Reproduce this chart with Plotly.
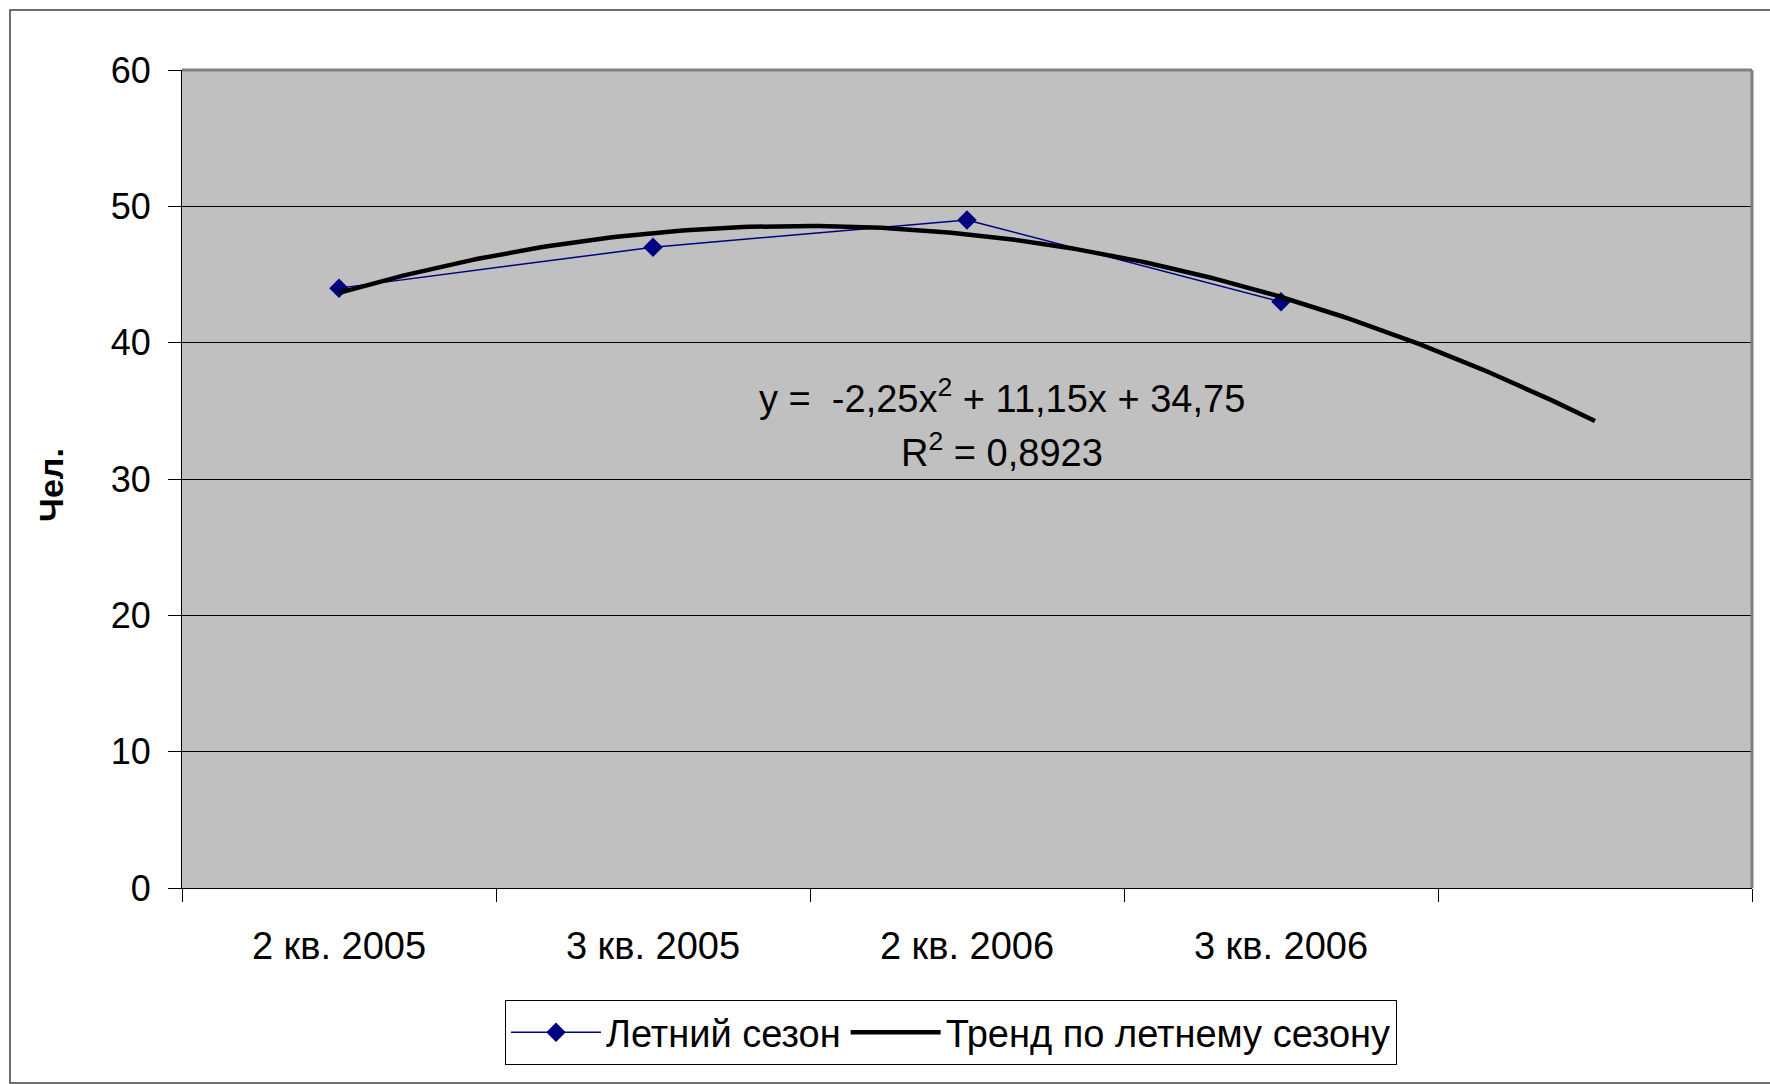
import numpy as np
import plotly.graph_objects as go

# Summer-season headcount by quarter
quarters = ["2 кв. 2005", "3 кв. 2005", "2 кв. 2006", "3 кв. 2006"]
summer_values = [44, 47, 49, 43]
forecast_periods = 1          # trend is extended one period forward

series_name = "Летний сезон"
trend_name = "Тренд по летнему сезону"
y_title = "Чел."
y_ticks = [0, 10, 20, 30, 40, 50, 60]

# Canvas / plot-area geometry in pixels
W, H = 1770, 1084
L, R, T, B = 182, 1752, 70, 888

FONT = "Liberation Sans, Arial, sans-serif"
FS = 38

# Quadratic trend fitted on period index 1..n
x_idx = np.arange(1, len(summer_values) + 1)
coef = np.polyfit(x_idx, summer_values, 2)
fit_vals = np.polyval(coef, x_idx)
ss_res = np.sum((np.array(summer_values) - fit_vals) ** 2)
ss_tot = np.sum((np.array(summer_values) - np.mean(summer_values)) ** 2)
r2 = 1 - ss_res / ss_tot

x_trend = np.linspace(1, len(summer_values) + forecast_periods, 200)
y_trend = np.polyval(coef, x_trend)


def num(v, d):
    return f"{v:.{d}f}".replace(".", ",")


def signed(v, d):
    return ("+ " if v >= 0 else "- ") + num(abs(v), d)


eq_text = (f"y =  {num(coef[0], 2)}x<sup>2</sup> {signed(coef[1], 2)}x "
           f"{signed(coef[2], 2)}")
r2_text = f"R<sup>2</sup> = {num(r2, 4)}"


def px_x(p):
    return (p - L) / (R - L)


def px_y(p):
    return (B - p) / (B - T)


n_slots = len(summer_values) + forecast_periods

fig = go.Figure()
fig.add_trace(go.Scatter(
    x=x_idx, y=summer_values, name=series_name, mode="lines+markers",
    line=dict(color="#000080", width=1.5),
    marker=dict(symbol="diamond", size=15, color="#000080"),
))
fig.add_trace(go.Scatter(
    x=x_trend, y=y_trend, name=trend_name, mode="lines",
    line=dict(color="#000000", width=4.5),
))

fig.update_layout(
    width=W, height=H,
    margin=dict(l=L, r=W - R, t=T, b=H - B),
    paper_bgcolor="white",
    plot_bgcolor="#C0C0C0",
    font=dict(family=FONT, size=FS, color="black"),
    showlegend=True,
    legend=dict(
        orientation="h", x=px_x(951), y=px_y(1000),
        xanchor="center", yanchor="top",
        bordercolor="black", borderwidth=1, bgcolor="white",
        font=dict(family=FONT, size=FS, color="black"),
        itemwidth=90,
    ),
)

fig.update_xaxes(
    range=[0.5, n_slots + 0.5],
    tickmode="array", tickvals=list(x_idx), ticktext=quarters,
    ticks="outside", ticklen=13, tickcolor="rgba(0,0,0,0)",
    ticklabelstandoff=11,
    showgrid=False, zeroline=False,
    showline=True, linecolor="black", linewidth=1,
    minor=dict(tickvals=[i + 0.5 for i in range(n_slots + 1)],
               ticks="outside", ticklen=13, tickcolor="black", tickwidth=1,
               showgrid=False),
    tickfont=dict(family=FONT, size=FS, color="black"),
)
fig.update_yaxes(
    range=[0, 60], tickmode="array", tickvals=y_ticks,
    ticks="outside", ticklen=13, tickcolor="black", tickwidth=1,
    ticklabelstandoff=10,
    showgrid=True, gridcolor="black", gridwidth=1,
    zeroline=False, showline=True, linecolor="black", linewidth=1,
    tickfont=dict(family=FONT, size=36, color="black"),
)

# Axis title
fig.add_annotation(
    text=f"<b>{y_title}</b>", xref="paper", yref="paper",
    x=px_x(51), y=px_y(485), textangle=-90, showarrow=False,
    xanchor="center", yanchor="middle",
    font=dict(family=FONT, size=34, color="black"),
)

# Trend equation and R²
fig.add_annotation(text=eq_text, xref="x", yref="y", x=3.11, y=36.1,
                   showarrow=False, xanchor="center", yanchor="middle",
                   font=dict(family=FONT, size=FS, color="black"))
fig.add_annotation(text=r2_text, xref="x", yref="y", x=3.11, y=32.1,
                   showarrow=False, xanchor="center", yanchor="middle",
                   font=dict(family=FONT, size=FS, color="black"))

# Plot-area frame (top and right edges) and outer chart border
fig.add_shape(type="line", xref="paper", yref="paper", x0=0, x1=1, y0=1, y1=1,
              line=dict(color="#808080", width=3), layer="above")
fig.add_shape(type="line", xref="paper", yref="paper", x0=1, x1=1, y0=0, y1=1,
              line=dict(color="#808080", width=3), layer="above")
fig.add_shape(type="rect", xref="paper", yref="paper",
              x0=px_x(10), x1=px_x(1800), y0=px_y(1083), y1=px_y(10),
              line=dict(color="#404040", width=1.5), layer="above")

fig.write_html("out.html")
